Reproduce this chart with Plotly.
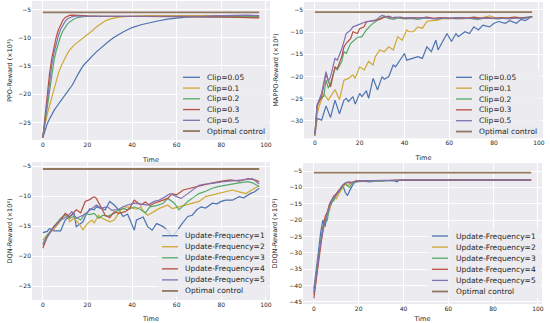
import plotly.graph_objects as go

W, H = 550, 323

# ---------------- data ----------------
SERIES_COLORS = ["#4C72B0", "#D1A734", "#55A868", "#B8503E", "#8172B2"]
OPT_COLOR = "#937860"
OPT_VALUE = -5.5
OPT_X = [0, 97]

PPO_NAMES = ["Clip=0.05", "Clip=0.1", "Clip=0.2", "Clip=0.3", "Clip=0.5"]
PPO_X = [0, 1, 2, 3, 4, 5, 6, 7, 8, 9, 10, 11, 12, 13, 14, 15, 16, 18, 20, 22, 24, 26, 28, 30,
         32, 34, 36, 38, 40, 44, 48, 52, 56, 60, 64, 68, 72, 76, 80, 84, 88, 92, 97]
PPO_CLIP005 = [-27.7, -26.2, -25.2, -24.4, -23.6, -22.9, -22.3, -21.7, -21.1, -20.6, -20.1, -19.6,
               -19.1, -18.5, -17.8, -17.0, -16.3, -15.0, -14.1, -13.3, -12.5, -11.8, -11.1, -10.5,
               -9.9, -9.4, -9.0, -8.6, -8.2, -7.7, -7.3, -7.0, -6.7, -6.5, -6.35, -6.3, -6.3, -6.3,
               -6.3, -6.3, -6.3, -6.3, -6.3]
PPO_CLIP01 = [-27.3, -25.3, -23.5, -22.0, -20.5, -19.0, -17.6, -16.3, -15.2, -14.3, -13.5, -12.8,
              -12.2, -11.7, -11.3, -11.0, -10.7, -10.1, -9.5, -8.8, -8.1, -7.5, -7.0, -6.7,
              -6.5, -6.35, -6.25, -6.2, -6.2, -6.15, -6.1, -6.1, -6.1, -6.05, -6.05, -6.05, -6.05,
              -6.05, -6.05, -6.05, -6.1, -6.1, -6.1]
PPO_CLIP02 = [-27.7, -25.0, -22.0, -19.0, -16.3, -14.1, -12.3, -10.8, -9.7, -8.8, -8.1, -7.6,
              -7.2, -6.9, -6.7, -6.5, -6.4, -6.25, -6.2, -6.2, -6.2, -6.2, -6.2, -6.2,
              -6.2, -6.2, -6.2, -6.2, -6.2, -6.2, -6.2, -6.2, -6.2, -6.2, -6.2, -6.2, -6.2,
              -6.2, -6.2, -6.25, -6.3, -6.3, -6.3]
PPO_CLIP03 = [-27.7, -23.8, -19.8, -16.4, -13.7, -11.6, -9.9, -8.6, -7.6, -6.9, -6.4, -6.15,
              -6.05, -6.0, -6.0, -6.0, -6.05, -6.1, -6.15, -6.2, -6.2, -6.2, -6.2, -6.2,
              -6.2, -6.2, -6.2, -6.2, -6.2, -6.2, -6.2, -6.2, -6.25, -6.25, -6.25, -6.25, -6.3,
              -6.3, -6.3, -6.35, -6.4, -6.45, -6.5]
PPO_CLIP05 = [-27.7, -24.3, -20.8, -17.6, -14.9, -12.7, -11.0, -9.6, -8.5, -7.7, -7.1, -6.7,
              -6.45, -6.3, -6.2, -6.15, -6.15, -6.2, -6.2, -6.2, -6.2, -6.2, -6.2, -6.2,
              -6.2, -6.2, -6.2, -6.2, -6.25, -6.25, -6.3, -6.3, -6.3, -6.3, -6.3, -6.25, -6.2,
              -6.15, -6.1, -6.05, -6.0, -6.0, -6.1]

MAPPO_X_005 = [0, 1, 3, 5, 7, 9, 11, 13, 14, 15, 17, 18, 20, 21, 23, 24, 26, 28, 30, 31, 33, 35, 36,
               38, 40, 41, 44, 46, 48, 50, 52, 54, 55, 57, 59, 61, 63, 64, 67, 69, 71, 73, 75, 78,
               80, 82, 85, 87, 90, 92, 94, 97]
MAPPO_Y_005 = [-33.4, -29.4, -29.8, -26.6, -29.2, -25.3, -28.4, -25.3, -24.9, -25.6, -24.5, -26.2,
               -23.8, -24.5, -23.2, -24.9, -20.4, -23.0, -20.0, -20.6, -20.0, -17.4, -17.8, -16.3,
               -14.8, -16.3, -15.9, -15.5, -15.9, -13.3, -14.4, -11.8, -14.0, -12.1, -10.3, -12.1,
               -10.3, -11.0, -9.9, -10.3, -8.8, -9.5, -8.4, -8.8, -8.0, -7.6, -8.0, -7.4, -8.0,
               -7.1, -7.4, -6.4]
MAPPO_X_01 = [0, 1, 2, 4, 6, 9, 11, 13, 15, 17, 18, 20, 22, 24, 26, 27, 29, 31, 33, 35, 37, 39, 41,
              42, 44, 46, 48, 50, 52, 55, 57, 60, 63, 66, 69, 72, 75, 78, 81, 84, 87, 90, 93, 97]
MAPPO_Y_01 = [-33.4, -28.5, -26.5, -23.9, -25.3, -22.9, -25.2, -20.8, -20.4, -19.6, -20.4, -17.8,
              -18.5, -16.6, -17.4, -15.5, -14.0, -14.4, -13.3, -14.0, -11.0, -11.8, -9.5, -9.9,
              -9.9, -8.8, -9.1, -7.6, -7.4, -7.3, -6.9, -7.0, -6.7, -7.0, -6.8, -6.9, -6.7, -6.3,
              -6.8, -6.7, -6.9, -6.6, -6.8, -6.5]
MAPPO_X_02 = [0, 1, 2, 4, 5, 6, 7, 9, 10, 12, 13, 14, 16, 17, 19, 21, 23, 25, 27, 29, 31, 33, 35,
              37, 40, 43, 46, 49, 52, 55, 58, 61, 64, 67, 70, 73, 76, 79, 82, 85, 88, 91, 94, 97]
MAPPO_Y_02 = [-33.0, -26.8, -25.3, -24.4, -20.8, -22.6, -21.5, -18.1, -18.5, -16.6, -14.4, -14.8,
              -12.5, -12.1, -11.2, -11.0, -9.5, -8.4, -7.6, -6.9, -6.5, -6.9, -7.1, -6.8, -7.0,
              -6.9, -7.1, -6.8, -6.9, -7.0, -6.8, -6.9, -7.0, -6.8, -6.9, -7.1, -6.8, -6.9, -7.0,
              -6.8, -6.9, -6.8, -6.7, -6.5]
MAPPO_X_03 = [0, 1, 3, 5, 6, 7, 9, 10, 12, 13, 14, 16, 17, 19, 20, 22, 23, 26, 27, 29, 31, 33, 35,
              38, 41, 44, 47, 50, 53, 56, 59, 62, 65, 68, 71, 74, 77, 80, 83, 86, 89, 92, 95, 97]
MAPPO_Y_03 = [-33.0, -26.6, -24.5, -19.3, -21.0, -22.3, -17.8, -18.2, -15.5, -13.3, -12.5, -11.4,
              -9.9, -10.3, -9.2, -8.8, -7.7, -7.5, -7.3, -7.1, -6.6, -6.4, -6.8, -6.6, -6.9, -6.7,
              -6.8, -6.6, -6.9, -6.7, -6.8, -6.9, -6.7, -6.8, -6.6, -6.8, -6.7, -6.9, -6.7, -6.8,
              -6.6, -6.8, -6.7, -6.5]
MAPPO_X_05 = [0, 1, 3, 5, 6, 7, 9, 10, 12, 13, 14, 16, 17, 19, 21, 23, 25, 27, 29, 30, 32, 34, 36,
              39, 42, 45, 48, 51, 54, 57, 60, 63, 66, 69, 72, 75, 78, 81, 84, 87, 90, 93, 97]
MAPPO_Y_05 = [-33.0, -26.4, -23.8, -18.9, -21.1, -20.0, -15.9, -16.3, -13.8, -11.8, -10.3, -9.5,
              -8.8, -8.4, -8.0, -7.6, -7.5, -7.4, -6.5, -6.2, -6.5, -6.8, -6.6, -6.8, -6.7, -6.9,
              -6.7, -6.8, -7.0, -6.8, -6.9, -6.7, -6.9, -6.8, -7.0, -6.8, -6.9, -6.8, -6.9, -7.0,
              -6.8, -6.9, -6.6]

DQN_NAMES = ["Update-Frequency=1", "Update-Frequency=2", "Update-Frequency=3",
             "Update-Frequency=4", "Update-Frequency=5"]
DQN_X_1 = [0, 2, 3, 5, 8, 10, 12, 14, 15, 18, 19, 21, 23, 24, 28, 30, 32, 34, 36, 38, 41, 42, 45,
           47, 49, 51, 54, 56, 58, 60, 62, 65, 67, 69, 71, 73, 76, 78, 80, 82, 85, 88, 90, 93, 95, 97]
DQN_Y_1 = [-16.1, -15.9, -15.4, -15.8, -15.8, -14.0, -13.4, -12.9, -15.1, -14.3, -13.4, -12.1,
           -12.3, -11.8, -12.3, -10.9, -11.5, -12.3, -13.4, -13.0, -15.7, -14.0, -13.5, -15.1,
           -15.7, -14.6, -15.1, -15.8, -16.8, -15.9, -14.8, -13.4, -13.2, -12.3, -11.8, -12.0,
           -11.2, -11.3, -10.9, -10.7, -10.7, -10.1, -10.3, -9.6, -9.3, -8.7]
DQN_X_2 = [0, 2, 5, 7, 9, 11, 12, 14, 16, 18, 20, 22, 23, 25, 26, 28, 30, 32, 33, 35, 38, 40, 42,
           44, 45, 47, 50, 52, 56, 58, 61, 64, 67, 70, 73, 76, 79, 82, 85, 88, 91, 94, 97]
DQN_Y_2 = [-17.3, -16.5, -15.5, -14.6, -13.4, -13.0, -14.3, -13.7, -14.5, -15.6, -14.6, -14.0,
           -14.5, -13.2, -13.6, -14.0, -14.3, -14.0, -13.5, -12.3, -11.8, -12.0, -12.2, -11.8,
           -12.5, -13.2, -12.6, -12.1, -11.5, -12.1, -11.8, -11.5, -11.2, -10.9, -10.1, -9.8,
           -9.6, -9.3, -9.0, -9.3, -9.6, -8.9, -8.3]
DQN_X_3 = [0, 2, 5, 8, 10, 12, 14, 17, 19, 21, 23, 25, 27, 29, 32, 34, 36, 38, 41, 44, 46, 48, 51,
           54, 56, 59, 61, 63, 65, 68, 70, 73, 76, 79, 82, 85, 88, 92, 94, 97]
DQN_Y_3 = [-17.9, -16.5, -15.1, -13.7, -13.2, -13.7, -13.4, -14.0, -12.9, -13.1, -12.9, -13.7,
           -13.2, -13.4, -12.9, -12.3, -12.1, -12.3, -11.8, -12.3, -12.8, -11.8, -11.6, -11.2,
           -10.4, -11.2, -12.3, -11.6, -10.9, -10.1, -9.6, -9.2, -8.7, -8.4, -8.2, -7.9, -7.8,
           -7.6, -7.8, -8.4]
DQN_X_4 = [0, 2, 5, 8, 10, 12, 15, 17, 19, 21, 23, 24, 26, 28, 30, 32, 34, 37, 39, 41, 44, 46, 48,
           50, 53, 56, 58, 60, 63, 66, 69, 72, 75, 79, 84, 88, 92, 95, 97]
DQN_Y_4 = [-18.7, -16.8, -15.0, -14.0, -12.9, -13.5, -12.3, -12.8, -10.9, -10.6, -10.1, -10.4,
           -11.8, -13.2, -13.6, -12.6, -12.9, -12.6, -12.0, -10.7, -11.5, -11.0, -11.6, -11.2,
           -10.8, -10.4, -9.6, -9.8, -9.0, -8.7, -8.4, -8.1, -7.9, -7.6, -7.3, -7.5, -7.1, -7.3,
           -7.6]
DQN_X_5 = [0, 2, 5, 8, 11, 13, 15, 18, 20, 22, 24, 26, 29, 31, 34, 36, 38, 41, 44, 47, 50, 52, 55,
           57, 60, 62, 65, 68, 70, 73, 76, 81, 85, 90, 94, 97]
DQN_Y_5 = [-18.2, -16.8, -15.2, -14.0, -13.4, -12.6, -13.7, -13.2, -12.7, -12.1, -11.5, -12.0,
           -11.8, -12.4, -12.2, -11.8, -11.5, -11.2, -11.3, -11.5, -10.9, -10.7, -10.1, -9.6,
           -10.1, -10.4, -9.6, -8.7, -8.2, -8.0, -7.9, -7.6, -7.5, -7.3, -7.1, -8.0]

DDQN_X = [0, 1, 2, 3, 4, 5, 6, 7, 8, 9, 10, 11, 12, 13, 14, 15, 16, 17, 18, 19, 20, 22, 25, 28,
          30, 33, 36, 37, 38, 40, 45, 50, 60, 70, 80, 90, 97]
DDQN_UF1 = [-41, -36, -30, -24, -20, -22, -18, -16.5, -14.5, -13, -12, -11.5, -10.5, -9.5, -11.5,
            -12.5, -11, -9.5, -8.5, -8.3, -8.2, -8.1, -8.3, -8.0, -8.1, -7.9, -8.0, -8.3, -7.9,
            -7.9, -7.9, -7.8, -7.8, -7.8, -7.8, -7.8, -7.8]
DDQN_UF2 = [-43, -38, -32, -27, -24, -20, -18.5, -17, -14, -13, -13.5, -12, -11, -10, -9, -9.5, -9,
            -8.5, -8.2, -8.0, -8.1, -7.9, -8.0, -7.9, -8.0, -7.9, -7.8, -7.9, -7.8, -7.8, -7.8,
            -7.8, -7.8, -7.8, -7.8, -7.8, -7.8]
DDQN_UF3 = [-42, -37, -31, -26, -22, -21, -20, -16, -14.5, -14, -12, -11, -10.5, -9.5, -8.8, -9.5,
            -10, -9, -8.5, -8.2, -8.1, -8.0, -8.2, -7.9, -8.0, -7.9, -7.9, -7.8, -7.9, -7.8, -7.8,
            -7.8, -7.8, -7.8, -7.8, -7.8, -7.8]
DDQN_UF4 = [-44, -38.5, -33, -28, -23, -19, -17.5, -15, -13.5, -12.5, -12, -11, -10, -9.2, -8.8,
            -8.5, -8.7, -8.4, -8.1, -8.0, -8.0, -8.1, -7.9, -8.0, -7.9, -7.9, -7.8, -7.9, -7.8,
            -7.8, -7.8, -7.8, -7.8, -7.8, -7.8, -7.8, -7.8]
DDQN_UF5 = [-42.5, -37, -32, -27, -23, -20.5, -18.5, -15.5, -14, -13, -12.5, -11.2, -10.2, -9.3,
            -8.6, -8.4, -8.3, -8.5, -8.2, -8.1, -8.0, -8.0, -7.9, -8.0, -7.9, -7.8, -7.9, -7.8,
            -7.8, -7.7, -7.7, -7.7, -7.7, -7.7, -7.7, -7.7, -7.7]

X_TICKS = [0, 20, 40, 60, 80, 100]
PPO_YTICKS = [-5, -10, -15, -20, -25]
MAPPO_YTICKS = [-5, -10, -15, -20, -25, -30]
DQN_YTICKS = [-5, -10, -15, -20, -25]
DDQN_YTICKS = [-5, -10, -15, -20, -25, -30, -35, -40, -45]

# ---------------- layout helpers ----------------
BG = "#EBEBF0"
FONT = "DejaVu Sans"
TXT = "#262626"


def fx(p):
    return p / W


def fy(p):
    return 1 - p / H


panels = [
    dict(xd=(32, 270), yd=(1, 140), yr=[-28.1, -3.5], yt=PPO_YTICKS,
         ytitle="PPO-Reward (×10³)", ystand=5, xstand=10,
         series=[(PPO_X, PPO_CLIP005), (PPO_X, PPO_CLIP01), (PPO_X, PPO_CLIP02),
                 (PPO_X, PPO_CLIP03), (PPO_X, PPO_CLIP05)],
         names=PPO_NAMES, leg=dict(lx=(183, 200), tx=205, y0=77.3, dy=10.75, box=(178, 70, 268, 137))),
    dict(xd=(304, 543), yd=(2, 138.3), yr=[-33.9, -3.2], yt=MAPPO_YTICKS,
         ytitle="MAPPO-Reward (×10³)", ystand=11, xstand=10,
         series=[(MAPPO_X_005, MAPPO_Y_005), (MAPPO_X_01, MAPPO_Y_01), (MAPPO_X_02, MAPPO_Y_02),
                 (MAPPO_X_03, MAPPO_Y_03), (MAPPO_X_05, MAPPO_Y_05)],
         names=PPO_NAMES, leg=dict(lx=(456, 472), tx=477, y0=77.3, dy=10.85, box=(451, 70, 541, 137))),
    dict(xd=(32, 270), yd=(162, 300), yr=[-27.33, -4.33], yt=DQN_YTICKS,
         ytitle="DQN-Reward (×10³)", ystand=5, xstand=9,
         series=[(DQN_X_1, DQN_Y_1), (DQN_X_2, DQN_Y_2), (DQN_X_3, DQN_Y_3),
                 (DQN_X_4, DQN_Y_4), (DQN_X_5, DQN_Y_5)],
         names=DQN_NAMES, leg=dict(lx=(162, 178), tx=183, y0=235.7, dy=11.05, box=(157, 229, 268, 297))),
    dict(xd=(303, 542), yd=(163, 304), yr=[-45.67, -2.55], yt=DDQN_YTICKS,
         ytitle="DDQN-Reward (×10³)", ystand=11, xstand=6,
         series=[(DDQN_X, DDQN_UF1), (DDQN_X, DDQN_UF2), (DDQN_X, DDQN_UF3),
                 (DDQN_X, DDQN_UF4), (DDQN_X, DDQN_UF5)],
         names=DQN_NAMES, leg=dict(lx=(432, 448), tx=454, y0=236.0, dy=11.1, box=(427, 229, 540, 298))),
]

fig = go.Figure()
shapes = []
annotations = []
layout = {}

for i, p in enumerate(panels):
    k = "" if i == 0 else str(i + 1)
    xref, yref = "x" + k, "y" + k
    for j, (xs, ys) in enumerate(p["series"]):
        fig.add_trace(go.Scatter(x=xs, y=ys, mode="lines", name=p["names"][j],
                                 line=dict(color=SERIES_COLORS[j], width=1.2),
                                 xaxis=xref, yaxis=yref, showlegend=False))
    fig.add_trace(go.Scatter(x=OPT_X, y=[OPT_VALUE] * len(OPT_X), mode="lines",
                             name="Optimal control", line=dict(color=OPT_COLOR, width=1.8),
                             xaxis=xref, yaxis=yref, showlegend=False))

    layout["xaxis" + k] = dict(
        domain=[fx(p["xd"][0]), fx(p["xd"][1])], range=[-4.85, 101.85], anchor=yref,
        automargin=False,
        tickvals=X_TICKS, showgrid=True, gridcolor="white", gridwidth=1, zeroline=False,
        showline=False, ticks="", tickfont=dict(family=FONT, size=6, color=TXT),
        title=dict(text="Time", font=dict(family=FONT, size=6.5, color=TXT), standoff=p["xstand"]))
    layout["yaxis" + k] = dict(
        domain=[fy(p["yd"][1]), fy(p["yd"][0])], range=p["yr"], anchor=xref,
        automargin=False,
        tickvals=p["yt"], showgrid=True, gridcolor="white", gridwidth=1, zeroline=False,
        showline=False, ticks="", tickfont=dict(family=FONT, size=6, color=TXT),
        title=dict(text=p["ytitle"], font=dict(family=FONT, size=6.5, color=TXT), standoff=p["ystand"]))

    # legend (drawn inside each panel, matplotlib-like compact spacing)
    lg = p["leg"]
    bx0, by0, bx1, by1 = lg["box"]
    shapes.append(dict(type="rect", xref="paper", yref="paper", x0=fx(bx0), x1=fx(bx1),
                       y0=fy(by1), y1=fy(by0), fillcolor=BG, opacity=0.8,
                       line=dict(width=0), layer="above"))
    labels = p["names"] + ["Optimal control"]
    colors = SERIES_COLORS + [OPT_COLOR]
    for j, (lab, col) in enumerate(zip(labels, colors)):
        yy = lg["y0"] + j * lg["dy"]
        shapes.append(dict(type="line", xref="paper", yref="paper", x0=fx(lg["lx"][0]),
                           x1=fx(lg["lx"][1]), y0=fy(yy), y1=fy(yy),
                           line=dict(color=col, width=1.8 if j == 5 else 1.3), layer="above"))
        annotations.append(dict(text=lab, xref="paper", yref="paper", x=fx(lg["tx"]), y=fy(yy),
                                xanchor="left", yanchor="middle", showarrow=False,
                                font=dict(family=FONT, size=7.5, color=TXT)))

fig.update_layout(
    width=W, height=H, margin=dict(l=0, r=0, t=0, b=0, autoexpand=False),
    paper_bgcolor="white", plot_bgcolor=BG, showlegend=False,
    font=dict(family=FONT, color=TXT), shapes=shapes, annotations=annotations, **layout)

fig.write_html("out.html", config={"displayModeBar": False},
               post_script="document.body.style.margin='0px';document.body.style.padding='0px';"
                           "document.body.style.overflow='hidden';")
